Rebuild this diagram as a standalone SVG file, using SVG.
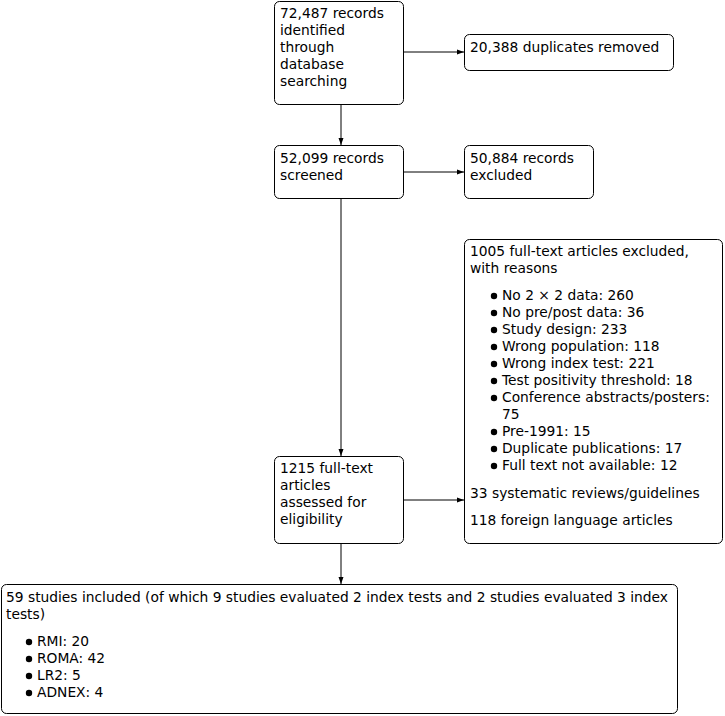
<svg xmlns="http://www.w3.org/2000/svg" width="725" height="716" viewBox="0 0 725 716">
<defs>
<style>
.box{fill:#fff;stroke:#000;stroke-width:1}
text{font-family:"DejaVu Sans","Liberation Sans",sans-serif;font-size:13.8px;fill:#000}
.c{stroke:#000;stroke-width:1;fill:none}
.b{fill:#000}
</style>
<marker id="ah" viewBox="0 0 7 6" refX="7" refY="3" markerWidth="7" markerHeight="6" markerUnits="userSpaceOnUse" orient="auto">
<path d="M0,0.5 L7,3 L0,5.5 Z" fill="#000"/>
</marker>
</defs>
<rect width="725" height="716" fill="#fff"/>
<g id="connectors">
<line class="c" x1="403" y1="52" x2="464" y2="52" marker-end="url(#ah)"/>
<line class="c" x1="341" y1="104" x2="341" y2="145" marker-end="url(#ah)"/>
<line class="c" x1="403" y1="172" x2="464" y2="172" marker-end="url(#ah)"/>
<line class="c" x1="341" y1="198" x2="341" y2="456" marker-end="url(#ah)"/>
<line class="c" x1="403" y1="500" x2="464" y2="500" marker-end="url(#ah)"/>
<line class="c" x1="341" y1="543" x2="341" y2="584" marker-end="url(#ah)"/>
</g>
<g id="identified">
<rect class="box" x="274.5" y="1.5" width="129" height="103" rx="5"/>
<text x="280" y="18">72,487 records</text>
<text x="280" y="35">identified</text>
<text x="280" y="52">through</text>
<text x="280" y="69">database</text>
<text x="280" y="86">searching</text>
</g>
<g id="duplicates">
<rect class="box" x="464.5" y="34.5" width="209" height="36" rx="5"/>
<text x="470" y="52">20,388 duplicates removed</text>
</g>
<g id="screened">
<rect class="box" x="274.5" y="145.5" width="129" height="53" rx="5"/>
<text x="280" y="163">52,099 records</text>
<text x="280" y="180">screened</text>
</g>
<g id="excluded">
<rect class="box" x="464.5" y="145.5" width="129" height="53" rx="5"/>
<text x="470" y="163">50,884 records</text>
<text x="470" y="180">excluded</text>
</g>
<g id="fulltext-excluded">
<rect class="box" x="464.5" y="239.5" width="258" height="304" rx="5"/>
<text x="470" y="256">1005 full-text articles excluded,</text>
<text x="470" y="273">with reasons</text>
<circle class="b" cx="494" cy="296" r="3.2"/><text x="502" y="300">No 2 × 2 data: 260</text>
<circle class="b" cx="494" cy="313" r="3.2"/><text x="502" y="317">No pre/post data: 36</text>
<circle class="b" cx="494" cy="330" r="3.2"/><text x="502" y="334">Study design: 233</text>
<circle class="b" cx="494" cy="347" r="3.2"/><text x="502" y="351">Wrong population: 118</text>
<circle class="b" cx="494" cy="364" r="3.2"/><text x="502" y="368">Wrong index test: 221</text>
<circle class="b" cx="494" cy="381" r="3.2"/><text x="502" y="385">Test positivity threshold: 18</text>
<circle class="b" cx="494" cy="398" r="3.2"/><text x="502" y="402">Conference abstracts/posters:</text>
<text x="502" y="419">75</text>
<circle class="b" cx="494" cy="432" r="3.2"/><text x="502" y="436">Pre-1991: 15</text>
<circle class="b" cx="494" cy="449" r="3.2"/><text x="502" y="453">Duplicate publications: 17</text>
<circle class="b" cx="494" cy="466" r="3.2"/><text x="502" y="470">Full text not available: 12</text>
<text x="470" y="498">33 systematic reviews/guidelines</text>
<text x="470" y="525">118 foreign language articles</text>
</g>
<g id="assessed">
<rect class="box" x="274.5" y="456.5" width="129" height="87" rx="5"/>
<text x="280" y="473">1215 full-text</text>
<text x="280" y="490">articles</text>
<text x="280" y="507">assessed for</text>
<text x="280" y="524">eligibility</text>
</g>
<g id="included">
<rect class="box" x="1.5" y="584.5" width="676" height="129" rx="5"/>
<text x="6" y="602">59 studies included (of which 9 studies evaluated 2 index tests and 2 studies evaluated 3 index</text>
<text x="6" y="619">tests)</text>
<circle class="b" cx="29" cy="642" r="3.2"/><text x="37" y="646">RMI: 20</text>
<circle class="b" cx="29" cy="659" r="3.2"/><text x="37" y="663">ROMA: 42</text>
<circle class="b" cx="29" cy="676" r="3.2"/><text x="37" y="680">LR2: 5</text>
<circle class="b" cx="29" cy="693" r="3.2"/><text x="37" y="697">ADNEX: 4</text>
</g>
</svg>
